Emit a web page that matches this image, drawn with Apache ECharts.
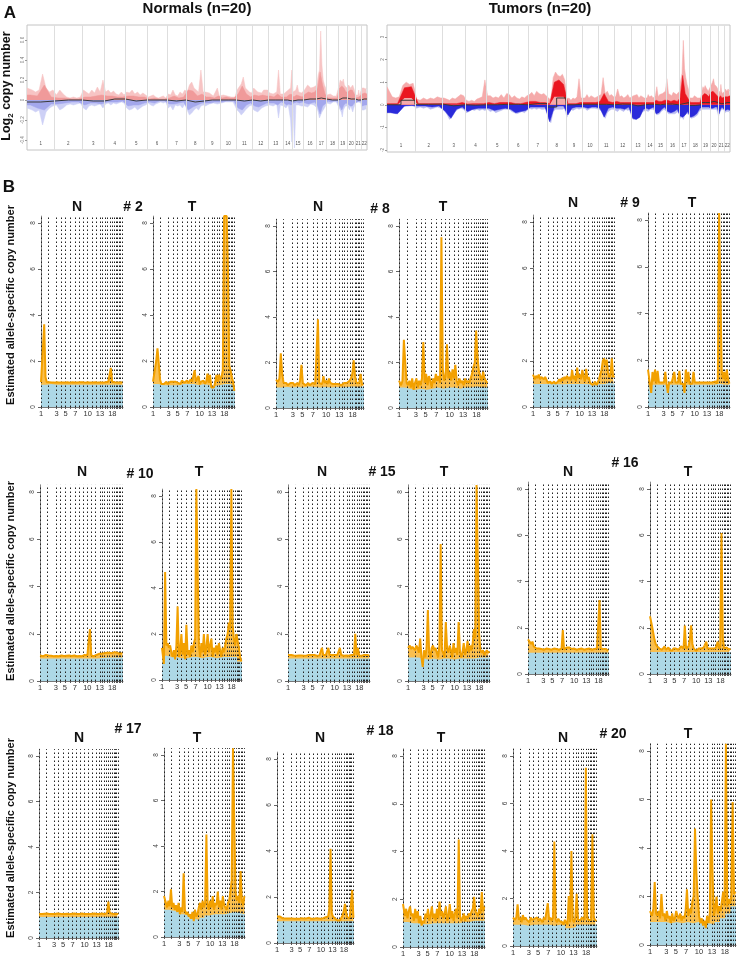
<!DOCTYPE html>
<html><head><meta charset="utf-8">
<script src="https://cdn.jsdelivr.net/npm/echarts@6/dist/echarts.min.js"></script>
<style>html,body{margin:0;padding:0;background:#fff}#main{width:739px;height:963px}</style>
</head><body><div id="main"></div>
<script>
// ---------- Panel A: relative chromosome extents (probe-based) ----------
const chromSizesA = [83,82,67,63,65,60,57,55,48,47,50,48,43,28,34,38,30,37,25,25,18,17];
const chromNames = ['1','2','3','4','5','6','7','8','9','10','11','12','13','14','15','16','17','18','19','20','21','22'];
const normTicks = [-0.4,-0.2,0,0.2,0.4,0.6];
const tumTicks = [-2,-1,0,1,2,3];

// Normals: upper envelope (8 samples / chromosome)
const normRedLight = [
0.12,0.1,0.08,0.1,0.26,0.12,0.08,0.1,
0.05,0.1,0.06,0.03,0.02,0.03,0.02,0.03,
0.1,0.08,0.06,0.1,0.07,0.13,0.08,0.2,
0.08,0.1,0.07,0.09,0.06,0.05,0.08,0.05,
0.08,0.07,0.1,0.06,0.08,0.05,0.07,0.05,
0.03,0.04,0.05,0.03,0.02,0.03,0.04,0.02,
0.06,0.05,0.1,0.05,0.04,0.08,0.06,0.1,
0.08,0.15,0.18,0.12,0.1,0.08,0.3,0.08,
0.08,0.06,0.07,0.05,0.04,0.06,0.12,0.04,
0.06,0.05,0.07,0.04,0.06,0.03,0.05,0.03,
0.1,0.13,0.16,0.23,0.12,0.1,0.08,0.07,
0.12,0.1,0.08,0.1,0.07,0.1,0.08,0.1,
0.07,0.08,0.06,0.07,0.08,0.3,0.06,0.05,
0.06,0.05,0.08,0.06,0.1,0.08,0.12,0.3,
0.08,0.06,0.1,0.15,0.08,0.06,0.07,0.05,
0.1,0.12,0.15,0.14,0.12,0.1,0.13,0.15,
0.15,0.25,0.3,0.69,0.35,0.2,0.15,0.12,
0.05,0.04,0.06,0.05,0.04,0.05,0.04,0.05,
0.15,0.2,0.22,0.18,0.21,0.15,0.14,0.12,
0.1,0.15,0.16,0.12,0.14,0.15,0.12,0.1,
0.05,0.04,0.06,0.05,0.1,0.04,0.05,0.06,
0.12,0.1,0.13,0.12,0.14,0.1,0.11,0.12];
// Normals: inner gain (4 / chromosome)
const normRedDark = [
0.05,0.04,0.15,0.03, 0.02,0.02,0.01,0.01, 0.03,0.03,0.04,0.05, 0.04,0.04,0.03,0.03,
0.04,0.04,0.03,0.03, 0.01,0.02,0.01,0.01, 0.02,0.04,0.02,0.03, 0.1,0.09,0.04,0.06,
0.03,0.03,0.02,0.04, 0.02,0.03,0.02,0.02, 0.06,0.14,0.06,0.03, 0.05,0.04,0.05,0.04,
0.04,0.03,0.06,0.03, 0.03,0.03,0.05,0.06, 0.03,0.05,0.04,0.03, 0.06,0.08,0.07,0.08,
0.12,0.28,0.15,0.06, 0.02,0.02,0.02,0.02, 0.12,0.14,0.12,0.08, 0.08,0.1,0.1,0.06,
0.02,0.02,0.03,0.02, 0.06,0.08,0.07,0.06];
// Normals: lower envelope (8 / chromosome)
const normBlueLight = [
-0.08,-0.1,-0.12,-0.1,-0.25,-0.12,-0.08,-0.06,
-0.05,-0.1,-0.08,-0.05,-0.04,-0.05,-0.04,-0.03,
-0.08,-0.1,-0.06,-0.05,-0.06,-0.05,-0.04,-0.08,
-0.04,-0.03,-0.05,-0.03,-0.04,-0.03,-0.02,-0.03,
-0.08,-0.1,-0.09,-0.07,-0.1,-0.08,-0.06,-0.05,
-0.03,-0.05,-0.06,-0.04,-0.03,-0.02,-0.03,-0.02,
-0.08,-0.06,-0.1,-0.05,-0.06,-0.05,-0.08,-0.04,
-0.1,-0.15,-0.13,-0.1,-0.08,-0.1,-0.06,-0.05,
-0.06,-0.05,-0.04,-0.06,-0.03,-0.05,-0.04,-0.03,
-0.03,-0.04,-0.02,-0.03,-0.02,-0.03,-0.02,-0.03,
-0.1,-0.12,-0.15,-0.13,-0.1,-0.08,-0.06,-0.05,
-0.1,-0.08,-0.12,-0.1,-0.08,-0.1,-0.06,-0.05,
-0.05,-0.04,-0.06,-0.05,-0.04,-0.18,-0.05,-0.04,
-0.06,-0.05,-0.08,-0.1,-0.05,-0.06,-0.2,-0.42,
-0.05,-0.48,-0.05,-0.04,-0.05,-0.04,-0.06,-0.05,
-0.06,-0.05,-0.07,-0.05,-0.04,-0.06,-0.05,-0.04,
-0.08,-0.12,-0.18,-0.2,-0.12,-0.1,-0.08,-0.06,
-0.03,-0.02,-0.04,-0.03,-0.02,-0.03,-0.02,-0.03,
-0.08,-0.1,-0.12,-0.17,-0.1,-0.08,-0.06,-0.05,
-0.06,-0.08,-0.1,-0.06,-0.05,-0.12,-0.08,-0.05,
-0.03,-0.02,-0.04,-0.03,-0.02,-0.03,-0.02,-0.03,
-0.1,-0.08,-0.12,-0.1,-0.08,-0.1,-0.09,-0.08];
const normBlueDark = [
-0.05,-0.08,-0.1,-0.04, -0.04,-0.03,-0.02,-0.02, -0.05,-0.03,-0.03,-0.04, -0.02,-0.02,-0.02,-0.01,
-0.06,-0.05,-0.05,-0.03, -0.02,-0.03,-0.01,-0.01, -0.04,-0.04,-0.03,-0.02, -0.1,-0.07,-0.05,-0.03,
-0.03,-0.03,-0.02,-0.02, -0.02,-0.01,-0.01,-0.01, -0.08,-0.1,-0.05,-0.03, -0.06,-0.07,-0.05,-0.03,
-0.03,-0.03,-0.05,-0.02, -0.03,-0.05,-0.04,-0.05, -0.03,-0.02,-0.03,-0.02, -0.03,-0.04,-0.03,-0.02,
-0.06,-0.14,-0.06,-0.04, -0.01,-0.02,-0.01,-0.01, -0.06,-0.1,-0.05,-0.03, -0.04,-0.06,-0.06,-0.03,
-0.01,-0.02,-0.01,-0.01, -0.06,-0.06,-0.05,-0.05];
// Normals: median per chromosome arm (2 / chromosome)
const normMedian = [
-0.02,-0.01, 0,0, -0.01,-0.01, 0.01,0.01, -0.01,0, 0,0, -0.01,0, -0.02,-0.01, 0,0, 0,0, -0.01,0,
-0.01,0, 0,0, 0,-0.01, 0,0, 0.01,0.01, 0.02,0.01, 0,0, 0.02,0.02, 0.01,0.01, 0,0, 0.01,0.01];

// Tumors
const tumRedLight = [
0.8,0.35,0.3,0.35,0.85,1.0,0.9,0.95,
0.25,0.2,0.3,0.22,0.3,0.25,0.35,0.3,
0.3,0.25,0.2,0.3,0.25,0.35,0.45,0.4,
0.2,0.15,0.2,0.15,0.25,0.3,0.35,1.1,
0.4,0.4,0.3,0.35,0.3,0.45,0.3,0.5,
0.45,0.3,0.4,0.3,0.25,0.35,0.3,0.4,
0.45,0.55,0.4,0.6,0.5,0.45,0.5,0.4,
0.3,0.2,1.2,1.45,1.3,1.25,1.35,1.1,
0.25,0.3,0.2,0.3,0.25,0.35,1.15,0.3,
0.35,0.3,0.45,0.3,0.4,0.35,0.3,0.35,
0.4,0.45,1.2,0.5,0.6,0.4,0.45,0.35,
0.35,0.7,0.35,0.4,0.3,0.35,0.45,0.3,
0.3,0.4,0.35,0.45,0.3,0.4,0.35,0.3,
0.35,0.3,0.45,0.35,0.3,0.4,0.3,0.35,
0.4,0.8,0.35,0.45,0.4,0.5,0.45,0.6,
1.15,0.5,0.45,0.4,0.55,0.5,0.45,0.5,
0.6,1.1,1.4,2.85,1.6,1.2,0.9,0.7,
0.3,0.35,0.3,0.4,0.35,0.3,0.35,0.3,
0.6,0.8,0.7,0.85,0.75,0.7,0.6,0.65,
0.8,0.9,1.0,1.15,0.9,0.85,0.8,0.7,
0.5,0.6,0.5,0.9,0.6,0.5,0.55,0.5,
0.6,0.7,0.75,0.6,0.65,0.7,0.6,0.65];
const tumRedDark = [
0.05,0.05,0.75,0.8, 0.05,0.05,0.05,0.05, 0.05,0.05,0.05,0.1, 0.03,0.05,0.05,0.05,
0.1,0.05,0.1,0.1, 0.1,0.05,0.05,0.1, 0.15,0.15,0.1,0.1, 0.05,1.0,1.1,0.9,
0.05,0.05,0.05,0.1, 0.1,0.1,0.1,0.1, 0.15,0.5,0.15,0.1, 0.15,0.1,0.1,0.1,
0.1,0.1,0.1,0.1, 0.1,0.1,0.1,0.1, 0.2,0.15,0.15,0.2, 0.2,0.15,0.2,0.15,
0.3,1.3,0.5,0.3, 0.1,0.1,0.1,0.1, 0.4,0.5,0.45,0.35, 0.55,0.6,0.5,0.4,
0.3,0.4,0.3,0.25, 0.35,0.4,0.35,0.4];
// lower edge of the strong gain blocks (chr1q, chr8q); 0 elsewhere
const tumRedDarkBase = [
0,0,0.3,0.3, 0,0,0,0, 0,0,0,0, 0,0,0,0,
0,0,0,0, 0,0,0,0, 0,0,0,0, 0,0.35,0.35,0.35,
0,0,0,0, 0,0,0,0, 0,0,0,0, 0,0,0,0,
0,0,0,0, 0,0,0,0, 0,0,0,0, 0,0,0,0,
0,0,0,0, 0,0,0,0, 0,0,0,0, 0,0,0,0,
0,0,0,0, 0,0,0,0];
const tumBlueLight = [
-0.2,-0.35,-0.4,-0.3,-0.1,-0.05,-0.05,-0.05,
-0.15,-0.1,-0.15,-0.1,-0.2,-0.15,-0.1,-0.15,
-0.2,-0.4,-0.65,-0.5,-0.3,-0.2,-0.15,-0.2,
-0.35,-0.3,-0.2,-0.25,-0.2,-0.25,-0.2,-0.25,
-0.2,-0.3,-0.25,-0.35,-0.3,-0.25,-0.2,-0.2,
-0.2,-0.3,-0.35,-0.4,-0.35,-0.3,-0.35,-0.25,
-0.15,-0.2,-0.15,-0.2,-0.15,-0.2,-0.2,-0.15,
-0.6,-0.8,-0.3,-0.2,-0.2,-0.2,-0.2,-0.15,
-0.55,-0.3,-0.2,-0.25,-0.2,-0.15,-0.2,-0.15,
-0.2,-0.15,-0.25,-0.2,-0.15,-0.2,-0.15,-0.2,
-0.2,-0.25,-0.3,-0.6,-0.35,-0.25,-0.2,-0.2,
-0.25,-0.3,-0.2,-0.25,-0.3,-0.2,-0.25,-0.2,
-0.3,-0.65,-0.7,-0.6,-0.65,-0.4,-0.3,-0.25,
-0.25,-0.2,-0.3,-0.25,-0.2,-0.25,-0.2,-0.2,
-0.3,-0.45,-0.5,-0.4,-0.3,-0.25,-0.2,-0.2,
-0.3,-0.4,-0.45,-0.4,-0.35,-0.4,-0.35,-0.3,
-0.4,-0.6,-0.5,-0.65,-0.5,-0.4,-0.45,-0.4,
-0.45,-0.6,-0.6,-0.55,-0.5,-0.45,-0.3,-0.25,
-0.2,-0.15,-0.2,-0.15,-0.2,-0.15,-0.2,-0.15,
-0.2,-0.25,-0.2,-0.25,-0.2,-0.25,-0.2,-0.2,
-0.5,-0.45,-0.3,-0.25,-0.2,-0.25,-0.2,-0.2,
-0.35,-0.3,-0.35,-0.3,-0.35,-0.3,-0.3,-0.35];
const tumBlueDark = [
-0.35,-0.4,-0.05,-0.03, -0.05,-0.05,-0.1,-0.05, -0.3,-0.6,-0.2,-0.1, -0.3,-0.2,-0.15,-0.15,
-0.15,-0.25,-0.2,-0.15, -0.2,-0.35,-0.3,-0.25, -0.1,-0.1,-0.1,-0.1, -0.75,-0.1,-0.05,-0.05,
-0.45,-0.15,-0.1,-0.1, -0.1,-0.15,-0.1,-0.1, -0.15,-0.55,-0.15,-0.1, -0.15,-0.15,-0.2,-0.1,
-0.6,-0.65,-0.55,-0.2, -0.15,-0.2,-0.15,-0.1, -0.4,-0.35,-0.2,-0.1, -0.3,-0.35,-0.3,-0.2,
-0.5,-0.55,-0.45,-0.3, -0.55,-0.5,-0.4,-0.15, -0.1,-0.1,-0.1,-0.1, -0.15,-0.15,-0.1,-0.1,
-0.4,-0.2,-0.1,-0.1, -0.25,-0.25,-0.2,-0.25];
const tumMedian = [
0,0.2, 0.02,0.03, -0.05,0, -0.02,0, 0,0.02, 0.02,0, 0.05,0.05, -0.1,0.3, 0,0.02, 0.02,0.02, 0.02,0,
0.03,0.02, -0.05,0, 0.02,0.02, 0,0.03, 0.03,0, 0.05,0.1, -0.03,0, 0.1,0.1, 0.15,0.1, 0.05,0.05, 0.1,0.1];

// ---------- Panel B: relative chromosome extents (1-22, X, Y) ----------
const chromSizesB = [8.75,10.25,5.5,5.5,6,6,5,5,5,5,5,5,3,3,3,3,3,2.5,2,2,1.5,1.5,2.5,1];
const labelChromsB = [1,3,5,7,10,13,18];
const yTicksB = [0,2,4,6,8];

// higher-allele copy number (orange) and lower-allele (blue) per sample
const N2o=[1.08,1.1,3.6,1.3,1.08,1.07,1.08,1.06,1.07,1.08,1.06,1.07,1.08,1.07,1.06,1.08,1.07,1.08,1.06,1.07,1.08,1.07,1.06,1.07,1.08,1.06,1.07,1.08,1.07,1.06,1.08,1.07,1.08,1.07,1.06,1.07,1.08,1.07,1.06,1.08,1.07,1.06,1.08,1.07,1.06,1.08,1.07,1.08,1.06,1.07,1.08,1.07,1.1,1.08,1.7,1.1,1.07,1.08,1.06,1.07,1.08,1.06,1.07,1.08];
const N2b=[0.97,1.0,0.97,0.97,0.97,0.97,0.97,0.97,0.97,0.97,0.97,0.97,0.97,0.97,0.97,0.97];
const T2o=[1.1,1.05,2.0,2.55,1.9,1.2,1.0,0.95,1.0,1.05,1.1,1.0,1.05,1.1,1.05,1.1,1.05,1.1,1.15,1.05,1.1,1.0,1.15,1.1,1.05,1.1,1.15,1.05,1.1,1.2,1.1,1.05,1.6,1.1,1.05,1.35,1.0,1.1,1.05,1.15,1.0,1.1,1.45,1.05,1.4,0.85,0.9,0.85,1.05,1.4,1.1,1.4,1.2,1.3,1.6,8.3,8.3,8.3,6.0,1.8,1.6,1.3,1.1,0.7];
const T2b=[1.0,0.95,0.95,0.95,0.95,1.0,1.0,1.0,0.95,1.0,0.95,0.9,0.95,1.0,1.0,0.95];
const N8o=[1.25,1.15,1.3,2.4,1.5,1.1,1.05,1.1,1.0,1.05,1.1,1.05,1.1,1.0,1.05,1.1,1.0,1.2,1.9,1.1,1.05,1.0,1.05,1.1,1.0,1.05,1.1,1.15,1.05,1.1,3.9,1.1,1.15,1.05,1.4,1.1,1.2,1.05,1.3,1.1,1.15,1.05,1.1,1.05,1.0,1.05,1.1,1.0,1.05,1.1,1.05,1.1,1.15,1.2,1.3,1.5,2.1,1.4,1.1,1.05,1.1,1.5,1.05,1.0];
const N8b=[0.9,0.92,0.9,0.92,0.9,0.95,0.92,0.9,0.92,0.9,0.92,0.9,0.92,0.95,0.92,0.95];
const T8o=[1.2,1.0,1.2,3.0,2.0,1.1,1.0,1.2,0.9,1.3,0.8,1.1,1.3,0.9,1.2,1.0,1.3,2.9,1.1,1.5,1.0,1.4,1.2,0.9,1.3,1.1,1.5,1.2,1.4,1.1,7.5,1.7,1.2,1.4,2.8,1.3,1.6,1.2,1.7,1.3,1.9,1.2,1.0,1.3,1.1,1.2,1.0,1.3,1.1,1.2,1.1,1.3,1.5,1.8,2.0,3.4,2.2,1.6,1.4,1.2,1.6,1.3,1.2,1.1];
const T8b=[0.9,0.85,0.8,0.85,0.8,0.85,0.9,0.85,0.9,0.9,0.85,0.9,0.9,0.95,0.9,0.9];
const N9o=[1.4,1.2,1.35,1.25,1.4,1.2,1.3,1.35,1.2,1.3,1.25,1.05,1.0,1.1,1.0,1.05,1.1,1.0,1.05,1.1,1.2,1.1,1.25,1.15,1.3,1.2,1.35,1.2,1.3,1.15,1.6,1.2,1.35,1.1,1.7,1.25,1.4,1.2,1.6,1.3,1.1,1.65,1.2,1.3,1.05,1.0,0.95,1.0,1.1,0.95,1.05,1.2,1.4,1.6,2.0,2.1,1.8,2.05,1.5,1.3,1.4,2.1,1.3,1.35];
const N9b=[1.0,1.0,1.0,1.0,0.98,0.98,1.0,1.0,1.0,1.0,0.98,0.95,0.98,1.0,1.05,1.0];
const T9o=[1.6,1.0,0.6,1.5,1.1,1.6,1.0,1.55,1.05,1.0,1.05,1.0,1.05,1.5,1.0,0.6,1.05,1.0,1.05,1.0,1.5,1.05,1.0,1.05,1.55,1.0,1.05,1.0,0.6,1.6,1.05,1.5,1.0,1.05,1.0,1.5,1.05,1.0,1.05,1.0,1.05,1.1,1.05,1.0,1.05,1.0,1.05,1.1,1.05,1.1,1.05,1.1,1.1,1.0,1.2,8.3,8.3,1.6,1.2,1.5,1.1,1.6,1.2,1.0];
const T9b=[0.95,0.95,0.95,0.95,0.95,0.95,0.95,0.95,0.95,0.95,0.95,0.95,0.95,1.0,0.95,0.95];
const N10o=[1.08,1.1,1.05,1.08,1.1,1.06,1.08,1.05,1.07,1.1,1.05,1.08,1.06,1.1,1.05,1.07,1.08,1.05,1.06,1.08,1.07,1.05,1.08,1.1,1.06,1.05,1.08,1.07,1.05,1.1,1.06,1.08,1.05,1.07,1.1,1.06,1.08,1.1,2.2,1.08,1.06,1.05,1.08,1.1,1.12,1.15,1.18,1.15,1.2,1.18,1.15,1.2,1.18,1.2,1.15,1.18,1.2,1.22,1.18,1.2,1.18,1.15,1.2,1.18];
const N10b=[0.95,0.95,0.95,0.95,0.95,0.95,0.95,0.95,0.95,0.95,0.95,0.97,1.0,1.0,1.0,1.0];
const T10o=[1.4,0.7,4.7,1.5,1.6,1.4,1.5,1.2,1.0,1.3,0.9,1.5,3.2,1.0,1.2,2.0,1.1,1.6,0.9,2.4,1.1,1.3,1.0,1.5,1.2,1.6,1.8,8.3,8.3,1.5,1.0,1.6,1.2,2.0,1.1,1.4,2.0,1.2,1.5,1.8,1.0,1.4,1.2,1.5,1.1,1.6,1.3,1.0,1.4,1.2,1.5,1.8,2.0,2.5,2.2,8.3,2.4,1.8,1.5,2.0,1.7,1.4,1.0,0.8];
const T10b=[1.05,1.0,1.0,0.95,0.95,1.0,1.0,0.95,1.0,1.0,0.95,1.0,1.0,1.0,1.0,0.8];
const N15o=[1.1,1.08,1.1,1.12,1.08,1.1,1.07,1.1,1.08,1.1,1.08,1.1,1.07,1.1,1.08,1.06,1.1,1.08,1.1,1.07,1.1,1.08,1.07,1.1,1.08,1.1,1.4,1.1,1.08,1.1,1.07,1.4,1.1,1.08,1.1,1.07,1.1,1.08,1.1,1.07,1.4,1.1,1.08,1.07,1.1,1.08,1.1,1.07,1.08,1.1,1.08,1.1,2.0,1.1,1.4,1.08,1.1,1.07,1.08,1.1,1.08,1.1,1.07,1.08];
const N15b=[0.95,0.95,0.95,0.95,0.95,0.95,0.95,0.95,0.95,0.95,0.95,0.95,0.95,0.95,0.95,0.95];
const T15o=[1.4,1.5,1.35,1.45,1.4,1.3,1.5,1.4,1.2,1.8,1.0,0.6,1.3,1.0,1.4,3.0,1.2,1.0,1.4,1.5,1.3,1.4,1.2,1.0,1.5,5.8,1.3,1.2,1.0,2.5,1.4,1.2,1.5,1.3,1.0,1.6,1.2,1.4,1.1,2.5,1.3,1.0,1.2,1.6,1.1,1.3,1.7,1.2,1.5,1.3,1.6,2.2,1.8,8.3,8.3,2.0,1.3,1.2,1.3,1.1,1.2,1.3,1.2,1.25];
const T15b=[1.0,1.0,0.95,0.9,0.95,0.9,0.95,0.95,0.9,0.95,0.95,0.95,0.95,1.0,1.0,1.0];
const N16o=[1.5,1.45,1.3,1.4,1.2,1.15,1.1,1.08,1.1,1.05,1.08,1.1,1.05,1.08,1.1,1.05,1.08,1.1,1.05,1.08,1.1,1.05,1.08,1.1,1.05,1.08,1.1,1.9,1.05,1.1,1.15,1.2,1.15,1.1,1.08,1.05,1.1,1.08,1.05,1.1,1.08,1.05,1.1,1.08,1.05,1.1,1.08,1.05,1.1,1.08,1.05,1.1,1.08,1.05,1.1,1.08,3.2,1.1,1.05,1.08,1.05,1.08,1.05,1.0];
const N16b=[0.92,0.92,0.92,0.92,0.92,0.92,0.92,0.92,0.92,0.92,0.92,0.92,0.92,0.92,0.92,0.92];
const T16o=[2.5,2.1,1.8,1.5,1.3,1.2,1.15,1.1,1.15,1.05,1.1,1.2,1.05,1.1,1.15,1.05,1.1,1.0,1.1,1.05,1.1,1.15,1.05,1.1,1.2,1.15,1.1,2.1,1.1,1.15,1.2,1.5,2.1,1.3,1.1,1.05,1.0,1.05,1.1,1.05,1.1,1.05,1.15,1.1,1.4,1.1,1.05,1.1,1.05,1.1,1.15,1.1,1.2,1.4,1.1,1.2,6.1,1.6,1.1,1.05,1.15,1.1,1.05,1.1];
const T16b=[0.95,0.95,0.95,0.95,0.95,0.95,0.95,0.95,0.95,0.95,0.95,0.95,0.95,0.95,0.95,0.95];
const N17o=[1.05,1.08,1.06,1.05,1.07,1.05,1.08,1.06,1.05,1.07,1.06,1.08,1.05,1.06,1.08,1.05,1.07,1.06,1.05,1.08,1.06,1.05,1.07,1.08,1.05,1.06,1.07,1.05,1.08,1.06,1.05,1.07,1.06,1.05,1.08,1.06,1.05,1.07,1.06,1.08,1.05,1.06,1.07,1.05,1.08,1.06,1.05,1.07,1.06,1.05,1.08,1.06,1.05,1.07,1.1,1.6,1.1,1.05,1.07,1.06,1.05,1.08,1.06,1.05];
const N17b=[0.92,0.92,0.92,0.92,0.92,0.92,0.92,0.92,0.92,0.92,0.92,0.92,0.92,0.92,0.92,0.92];
const T17o=[1.8,1.5,1.3,1.6,1.35,2.1,1.3,1.5,1.2,1.4,1.1,1.5,1.0,1.3,1.1,2.8,1.2,1.0,1.1,0.9,1.0,0.8,1.1,0.7,1.2,0.9,1.0,1.3,1.5,1.2,1.6,1.3,1.5,4.5,1.4,1.2,1.6,1.3,1.8,1.2,1.5,1.4,2.0,1.3,1.6,1.2,1.8,1.4,1.3,1.2,1.5,1.6,2.0,2.5,8.3,8.3,2.0,1.6,1.8,1.5,2.9,1.6,1.4,1.8];
const T17b=[1.2,1.15,1.1,1.0,0.95,0.8,0.75,0.85,0.95,1.0,1.0,1.0,1.05,1.1,1.05,1.0];
const N18o=[1.15,1.12,1.15,1.1,1.08,1.05,1.07,1.05,1.06,1.05,1.07,1.05,1.06,1.08,1.05,1.06,1.05,1.07,1.05,1.06,1.08,1.05,1.06,1.05,1.07,1.05,1.1,1.06,1.05,1.07,1.05,1.06,1.08,1.05,1.07,1.06,1.05,1.1,1.08,1.1,1.12,1.1,1.15,1.5,4.1,1.3,1.15,1.1,1.05,1.0,0.98,0.95,1.0,1.1,1.2,1.4,1.7,1.3,1.1,1.08,1.1,1.05,2.3,1.1];
const N18b=[0.95,0.95,0.95,0.95,0.95,0.95,0.95,0.95,0.95,0.95,0.95,0.95,0.93,0.95,0.95,0.95];
const T18o=[1.8,1.3,1.6,1.2,1.5,1.7,1.3,1.4,1.1,1.6,1.2,1.5,1.0,1.3,0.9,1.1,1.0,1.4,1.2,1.6,1.1,1.3,1.7,1.2,1.4,1.1,1.6,1.2,1.9,1.3,1.5,1.2,1.4,1.7,1.1,1.3,1.8,1.2,1.5,1.1,1.4,1.6,1.2,4.5,1.3,1.1,1.2,1.4,1.1,1.3,1.2,1.4,1.3,1.5,1.6,2.1,1.5,1.4,1.3,1.6,1.4,2.3,1.5,1.7];
const T18b=[1.05,1.0,1.0,0.95,0.95,1.0,1.0,1.0,1.0,1.0,1.0,1.05,1.05,1.1,1.1,1.1];
const N20o=[1.2,1.1,1.2,1.75,1.1,1.2,1.0,1.3,1.1,1.2,1.1,1.15,1.0,1.2,1.1,1.05,1.15,1.1,1.2,1.05,1.15,1.1,1.0,1.2,1.1,1.15,1.8,1.1,1.2,1.05,1.2,4.4,1.1,1.0,1.15,1.05,1.1,1.0,0.9,1.1,1.0,0.9,2.1,1.0,4.0,1.1,1.0,1.2,2.2,1.1,1.15,1.1,1.2,1.15,1.1,7.5,1.2,1.1,1.15,1.1,4.7,1.2,1.1,1.05];
const N20b=[0.9,0.9,0.85,0.9,0.9,0.9,0.9,0.85,0.9,0.85,0.75,0.8,0.9,0.9,0.9,0.9];
const T20o=[1.4,1.2,1.5,2.6,1.3,1.2,1.4,1.1,2.1,1.2,1.3,1.0,1.4,1.1,1.2,0.9,1.3,1.0,1.1,1.4,1.2,1.1,1.3,1.0,1.2,1.1,1.4,2.3,1.2,1.5,1.3,1.8,2.0,4.8,3.0,2.0,1.2,0.9,1.1,0.8,1.0,0.7,1.2,0.9,1.3,6.0,3.0,1.2,1.5,2.0,1.3,1.6,1.4,1.8,2.2,1.6,8.3,1.6,1.9,1.7,2.0,5.9,2.1,2.2];
const T20b=[0.95,0.95,0.95,0.9,0.95,0.9,0.95,0.9,0.95,0.95,0.9,0.85,0.95,1.1,1.3,1.6];
const sampleIds = ['2','8','9','10','15','16','17','18','20'];

// ---------- build ----------
const FONT = "'Liberation Sans', Arial, Helvetica, sans-serif";
function starts(sizes){const s=[];let a=0;sizes.forEach(v=>{s.push(a);a+=v;});return {s,total:a};}
const SA = starts(chromSizesA), startsA = SA.s, totalA = SA.total;
const centersA = chromSizesA.map((w,i)=>startsA[i]+w/2);
const SB = starts(chromSizesB), startsB = SB.s, totalB = SB.total;
const labelPosB = labelChromsB.map(c=>startsB[c-1]);

function ptsA(arr,K){
  const p=[[0,arr[0]]];
  for(let c=0;c<22;c++) for(let i=0;i<K;i++) p.push([startsA[c]+(i+0.5)/K*chromSizesA[c], arr[c*K+i]]);
  p.push([totalA, arr[arr.length-1]]);
  return p;
}
function stepsA(arr,K){
  const p=[];
  for(let c=0;c<22;c++) for(let i=0;i<K;i++){
    const x0=startsA[c]+i/K*chromSizesA[c], x1=startsA[c]+(i+1)/K*chromSizesA[c];
    p.push([x0,arr[c*K+i]],[x1,arr[c*K+i]]);
  }
  return p;
}
function ptsB(arr){
  const n=arr.length, p=[[0,arr[0]]];
  arr.forEach((v,i)=>p.push([(i+0.5)*totalB/n, v]));
  p.push([totalB, arr[n-1]]);
  return p;
}
function stepsB(arr){
  const n=arr.length, p=[];
  arr.forEach((v,i)=>{p.push([i*totalB/n,v],[(i+1)*totalB/n,v]);});
  return p;
}
function lookup(list, names, v){
  for(let i=0;i<list.length;i++) if(Math.abs(list[i]-v)<1e-6) return names[i];
  return '';
}

const grid=[], xAxis=[], yAxis=[], series=[], graphic=[];

// Panel A
const panelsA = [
  {rl:normRedLight, rd:normRedDark, rdBase:null, bl:normBlueLight, bd:normBlueDark, md:normMedian, ticks:normTicks, range:[-0.5,0.75]},
  {rl:tumRedLight, rd:tumRedDark, rdBase:tumRedDarkBase, bl:tumBlueLight, bd:tumBlueDark, md:tumMedian, ticks:tumTicks, range:[-2.09,3.53]}
];
const styleA = [
  {box:[27,25,340,125], c:['#F7C4C4','#F09A9A','#CDD0F6','#A3A7EC']},
  {box:[387,25,343,127], c:['#F5AAAA','#EA1620','#B8BAF1','#2A2ADA']}
];
panelsA.forEach((p,k)=>{
  const s=styleA[k];
  grid.push({left:s.box[0], top:s.box[1], width:s.box[2], height:s.box[3], show:true, borderColor:'#c4c4c4', borderWidth:1});
  xAxis.push({type:'value', gridIndex:k, min:0, max:totalA, axisLine:{show:false}, axisTick:{show:false}, splitLine:{show:false},
    axisLabel:{inside:true, margin:4, fontSize:4.5, color:'#555', fontFamily:FONT, customValues:centersA, formatter:v=>lookup(centersA, chromNames, v)}});
  yAxis.push({type:'value', gridIndex:k, min:p.range[0], max:p.range[1], axisLine:{show:false}, splitLine:{show:false},
    axisTick:{show:true, customValues:p.ticks, length:2, lineStyle:{color:'#999'}},
    axisLabel:{customValues:p.ticks, fontSize:4.5, color:'#777', margin:2, rotate:90, fontFamily:FONT}});
  series.push({type:'line', xAxisIndex:k, yAxisIndex:k, data:[], z:1, silent:true,
    markLine:{symbol:'none', silent:true, animation:false, label:{show:false}, lineStyle:{color:'#dedede', width:1, type:'solid'},
      data:startsA.slice(1).map(x=>({xAxis:x}))}});
  const add=(data,color,z,lw)=>series.push({type:'line', xAxisIndex:k, yAxisIndex:k, data, symbol:'none', z, silent:true,
    lineStyle:{width:lw===undefined?0.5:lw, color}, areaStyle:{color, opacity:1}});
  add(ptsA(p.rl,8), s.c[0], 2);
  add(ptsA(p.bl,8), s.c[2], 2);
  add(ptsA(p.bd,4), s.c[3], 3);
  add(ptsA(p.rd,4), s.c[1], 3);
  // strong-gain blocks sit above a lighter base (tumours only)
  if(p.rdBase) add(ptsA(p.rdBase,4), s.c[0], 3, 0);
  series.push({type:'line', xAxisIndex:k, yAxisIndex:k, data:stepsA(p.md,2), symbol:'none', z:4, silent:true, lineStyle:{width:1, color:'#3a3a3a'}});
});

// Panel B
const panelsB = [N2o,N2b,T2o,T2b,N8o,N8b,T8o,T8b,N9o,N9b,T9o,T9b,N10o,N10b,T10o,T10b,N15o,N15b,T15o,T15b,N16o,N16b,T16o,T16b,N17o,N17b,T17o,T17b,N18o,N18b,T18o,T18b,N20o,N20b,T20o,T20b];
// [left, right, y of 8, y of 0]
const layoutB = [
  [41,123,223,407],[153,235,223,407],[276,364,226,408],[399,488,226,408],[533,615,222,407],[648,730,220,407],
  [40,123,492,681],[162,242,496,680],[288,370,492,681],[408,490,492,681],[528,609,489,674],[650,731,489,674],
  [39,119,756,938],[164,245,755,937],[277,354,759,943],[403,485,756,947],[513,597,756,946],[650,736,751,945]
];
for(let j=0;j<18;j++){
  const k=2+j, o=panelsB[2*j], b=panelsB[2*j+1];
  const [l,r,y8,y0]=layoutB[j];
  const unit=(y0-y8)/8, top=y8-0.3*unit;
  grid.push({left:l, top:top, width:r-l, height:y0-top});
  xAxis.push({type:'value', gridIndex:k, min:0, max:totalB, splitLine:{show:false},
    axisLine:{show:true, lineStyle:{color:'#777', width:1}},
    axisTick:{show:true, customValues:startsB, length:2, lineStyle:{color:'#555'}},
    axisLabel:{customValues:labelPosB, formatter:v=>lookup(labelPosB, labelChromsB.map(String), v), fontSize:7.5, color:'#333', margin:3, fontFamily:FONT, hideOverlap:false}});
  yAxis.push({type:'value', gridIndex:k, min:0, max:8.3, splitLine:{show:false},
    axisLine:{show:true, lineStyle:{color:'#888', width:1}},
    axisTick:{show:true, customValues:yTicksB, length:3, lineStyle:{color:'#666'}},
    axisLabel:{customValues:yTicksB, rotate:90, fontSize:6.5, color:'#444', margin:4, fontFamily:FONT}});
  series.push({type:'line', xAxisIndex:k, yAxisIndex:k, data:ptsB(o), symbol:'none', z:2, silent:true,
    lineStyle:{width:0}, areaStyle:{color:'#F8B430', opacity:0.85}});
  series.push({type:'line', xAxisIndex:k, yAxisIndex:k, data:stepsB(b), symbol:'none', z:3, silent:true,
    lineStyle:{width:0}, areaStyle:{color:'#ADD8E6', opacity:1}});
  series.push({type:'line', xAxisIndex:k, yAxisIndex:k, data:[], z:4, silent:true,
    markLine:{symbol:'none', silent:true, animation:false, label:{show:false}, lineStyle:{color:'#222', width:1, type:[1.5,2.5]},
      data:startsB.map(x=>({xAxis:x}))}});
  series.push({type:'line', xAxisIndex:k, yAxisIndex:k, data:ptsB(o), symbol:'none', z:5, silent:true,
    lineStyle:{width:2, color:'#F2A000'}});
}

// Text
function txt(text,x,y,size,rot,weight){
  graphic.push({type:'text', x:x, y:y, rotation:rot||0, silent:true,
    style:{text:text, x:0, y:0, font:(weight||'bold')+' '+size+'px '+FONT, fill:'#111', align:'center', verticalAlign:'middle', textAlign:'center', textVerticalAlign:'middle'}});
}
txt('A',10,13,17);
txt('Normals (n=20)',197,9,15);
txt('Tumors (n=20)',540,9,15);
graphic.push({type:'text', x:7, y:86, rotation:Math.PI/2, silent:true,
  style:{text:'{a|Log}{b|2}{a| copy number}', x:0, y:0, align:'center', verticalAlign:'middle', textAlign:'center', textVerticalAlign:'middle',
    rich:{a:{fontFamily:FONT, fontWeight:'bold', fontSize:12.5, fill:'#111', lineHeight:15, verticalAlign:'middle'},
          b:{fontFamily:FONT, fontWeight:'bold', fontSize:8, fill:'#111', lineHeight:15, verticalAlign:'bottom', padding:[6,0,0,0]}}}});
txt('B',9,187,17);
const titleRows = [
  [[77,207],[133,207],[192,207],[318,207],[380,209],[443,207],[573,203],[630,203],[692,203]],
  [[82,472],[140,474],[199,472],[322,472],[382,472],[444,472],[568,472],[625,463],[688,472]],
  [[79,738],[128,729],[197,738],[320,738],[380,731],[441,738],[563,738],[613,734],[688,734]]
];
titleRows.forEach((row,ri)=>{
  for(let g=0;g<3;g++){
    const id=sampleIds[ri*3+g];
    txt('N',row[g*3][0],row[g*3][1],14);
    txt('# '+id,row[g*3+1][0],row[g*3+1][1],14);
    txt('T',row[g*3+2][0],row[g*3+2][1],14);
  }
});
[305,581,838].forEach(y=>txt('Estimated allele-specific copy number',11,y,11,Math.PI/2));

const chart = echarts.init(document.getElementById('main'), null, {renderer:'canvas'});
chart.setOption({animation:false, grid, xAxis, yAxis, series, graphic});
</script></body></html>
